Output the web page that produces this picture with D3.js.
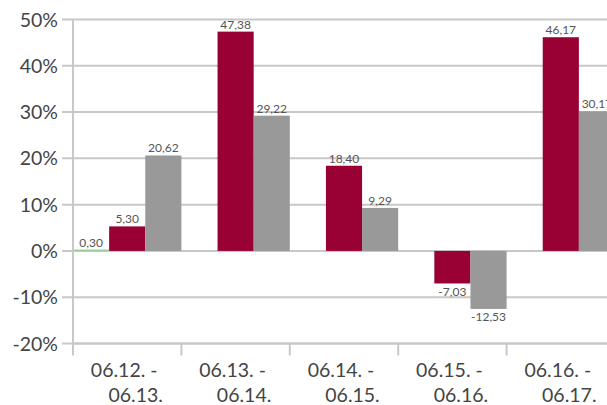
<!DOCTYPE html>
<html><head><meta charset="utf-8">
<script src="https://cdn.jsdelivr.net/npm/d3@7"></script>
<style>
html,body{margin:0;padding:0;background:#fff;overflow:hidden;}
svg{display:block;}
</style></head>
<body>
<svg id="chart" width="607" height="405"></svg>
<script>
const categories = ["06.12. - 06.13.", "06.13. - 06.14.", "06.14. - 06.15.", "06.15. - 06.16.", "06.16. - 06.17."];
const labelLine1 = ["06.12. -", "06.13. -", "06.14. -", "06.15. -", "06.16. -"];
const labelLine2 = ["06.13.", "06.14.", "06.15.", "06.16.", "06.17."];
const seriesNames = ["A", "B", "C"];
const seriesGreen = [0.30, null, null, null, null];
const seriesRed = [5.30, 47.38, 18.40, -7.03, 46.17];
const seriesGray = [20.62, 29.22, 9.29, -12.53, 30.17];
const yTicks = [-20, -10, 0, 10, 20, 30, 40, 50];
const colors = ["#99cc99", "#990033", "#999999"];

(function () {
const series = [seriesGreen, seriesRed, seriesGray];
const svg = d3.select("#chart");
const mLeft = 73, mRight = 615, mTop = 19.5, mBottom = 343.5;
const font = "Lato, 'Open Sans', sans-serif";

const x = d3.scaleBand().domain(categories).range([mLeft, mRight]).paddingInner(0).paddingOuter(0);
const xs = d3.scaleBand().domain(seriesNames).range([0, x.bandwidth()]).padding(0);
const y = d3.scaleLinear().domain([-20, 50]).range([mBottom, mTop]);

svg.append("g").selectAll("line").data(yTicks).join("line")
  .attr("x1", mLeft - 11).attr("x2", 607)
  .attr("y1", d => y(d)).attr("y2", d => y(d))
  .attr("stroke", "#c8c8c8").attr("stroke-width", 2);

svg.append("g").selectAll("text").data(yTicks).join("text")
  .attr("x", 58).attr("y", d => y(d) + 7)
  .attr("text-anchor", "end")
  .attr("font-family", font).attr("font-size", 19.5).attr("fill", "#444")
  .text(d => d + "%");

const gBars = svg.append("g");
series.forEach((s, si) => {
  gBars.selectAll(null).data(s.map((v, i) => ({v, c: categories[i]})).filter(d => d.v !== null))
    .join("rect")
    .attr("x", d => x(d.c) + xs(seriesNames[si]))
    .attr("width", xs.bandwidth())
    .attr("y", d => Math.min(y(d.v), y(0)))
    .attr("height", d => Math.max(Math.abs(y(d.v) - y(0)), 1.5))
    .attr("fill", colors[si]);
});

const fmt = v => v.toFixed(2).replace(".", ",");
series.forEach((s, si) => {
  svg.append("g").selectAll("text")
    .data(s.map((v, i) => ({v, c: categories[i]})).filter(d => d.v !== null))
    .join("text")
    .attr("x", d => x(d.c) + xs(seriesNames[si]) + xs.bandwidth() / 2)
    .attr("y", d => d.v >= 0 ? y(d.v) - 3 : y(d.v) + 12.5)
    .attr("text-anchor", "middle")
    .attr("font-family", font).attr("font-size", 12).attr("fill", "#555")
    .text(d => fmt(d.v));
});

svg.append("line").attr("x1", mLeft).attr("x2", mLeft).attr("y1", mTop).attr("y2", mBottom + 12)
  .attr("stroke", "#c8c8c8").attr("stroke-width", 2);
svg.append("line").attr("x1", mLeft).attr("x2", 607).attr("y1", mBottom).attr("y2", mBottom)
  .attr("stroke", "#c8c8c8").attr("stroke-width", 2);
svg.append("g").selectAll("line").data(categories.slice(1)).join("line")
  .attr("x1", d => x(d)).attr("x2", d => x(d))
  .attr("y1", mBottom).attr("y2", mBottom + 12)
  .attr("stroke", "#c8c8c8").attr("stroke-width", 2);

const gx = svg.append("g");
gx.selectAll("text.l1").data(categories).join("text").attr("class", "l1")
  .attr("x", d => x(d) + x.bandwidth() / 2 - 3).attr("y", 377)
  .attr("text-anchor", "middle")
  .attr("font-family", font).attr("font-size", 19.5).attr("fill", "#444")
  .text((d, i) => labelLine1[i]);
gx.selectAll("text.l2").data(categories).join("text").attr("class", "l2")
  .attr("x", d => x(d) + x.bandwidth() / 2 + 8.5).attr("y", 402)
  .attr("text-anchor", "middle")
  .attr("font-family", font).attr("font-size", 19.5).attr("fill", "#444")
  .text((d, i) => labelLine2[i]);
})();
</script>
</body></html>
